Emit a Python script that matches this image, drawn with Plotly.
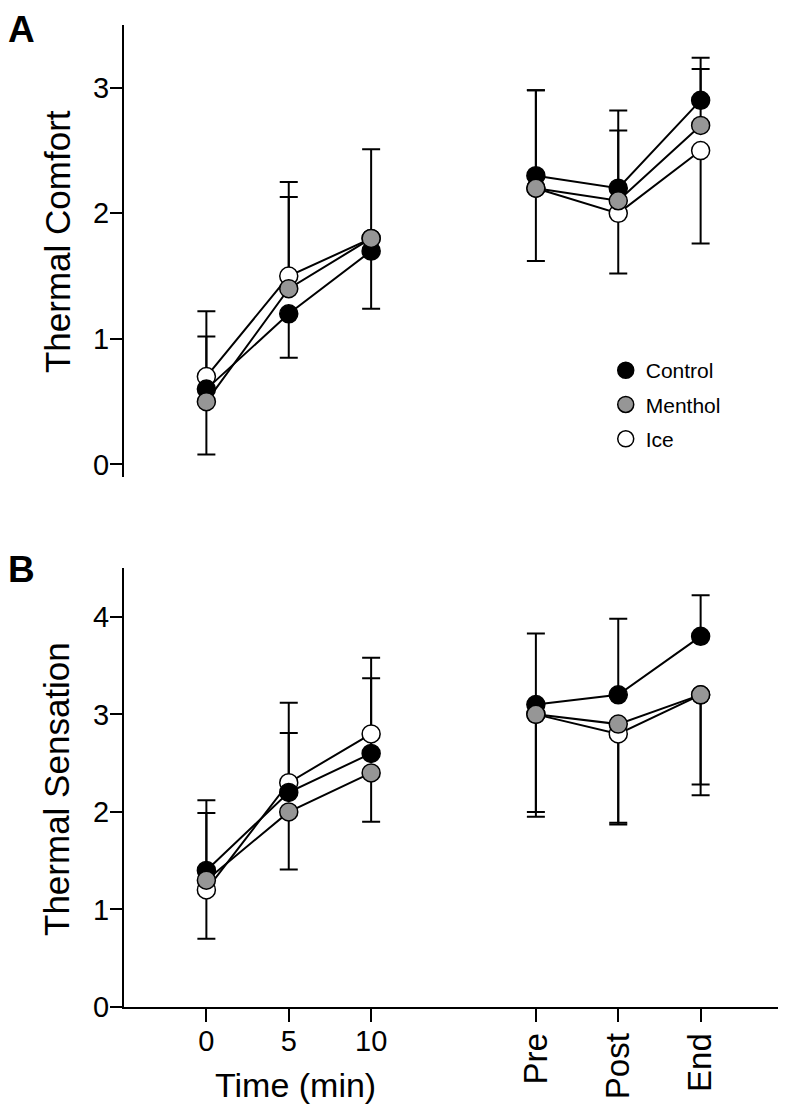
import plotly.graph_objects as go

FONT = "Liberation Sans, Arial, Helvetica, sans-serif"

# time points (first three in minutes, last three are phases)
categories = ["0", "5", "10", "Pre", "Post", "End"]
x_pos = [0, 1, 2, 4, 5, 6]

series = ["Control", "Menthol", "Ice"]
fills = {"Control": "black", "Menthol": "#969696", "Ice": "white"}

# panel A - thermal comfort
comfort_control = [0.6, 1.2, 1.7, 2.3, 2.2, 2.9]
comfort_menthol = [0.5, 1.4, 1.8, 2.2, 2.1, 2.7]
comfort_ice = [0.7, 1.5, 1.8, 2.2, 2.0, 2.5]
comfort_control_up = [0.42, 0, 0, 0.68, 0.62, 0.34]
comfort_control_dn = [0, 0.35, 0.46, 0, 0, 0]
comfort_menthol_up = [0, 0.73, 0.71, 0, 0.56, 0.45]
comfort_menthol_dn = [0.42, 0, 0, 0.58, 0, 0]
comfort_ice_up = [0.52, 0.75, 0, 0.78, 0, 0]
comfort_ice_dn = [0, 0, 0, 0, 0.48, 0.74]

# panel B - thermal sensation
sens_control = [1.4, 2.2, 2.6, 3.1, 3.2, 3.8]
sens_menthol = [1.3, 2.0, 2.4, 3.0, 2.9, 3.2]
sens_ice = [1.2, 2.3, 2.8, 3.0, 2.8, 3.2]
sens_control_up = [0.72, 0.61, 0.77, 0.73, 0.78, 0.42]
sens_control_dn = [0, 0, 0, 0, 0, 0]
sens_menthol_up = [0.69, 0, 0, 0, 0, 0]
sens_menthol_dn = [0, 0.59, 0.5, 1.0, 1.01, 0.92]
sens_ice_up = [0, 0.82, 0.78, 0, 0, 0]
sens_ice_dn = [0.5, 0, 0, 1.05, 0.93, 1.03]

panels = {
    "A": {"Control": (comfort_control, comfort_control_up, comfort_control_dn),
          "Menthol": (comfort_menthol, comfort_menthol_up, comfort_menthol_dn),
          "Ice": (comfort_ice, comfort_ice_up, comfort_ice_dn)},
    "B": {"Control": (sens_control, sens_control_up, sens_control_dn),
          "Menthol": (sens_menthol, sens_menthol_up, sens_menthol_dn),
          "Ice": (sens_ice, sens_ice_up, sens_ice_dn)},
}
axes = {"A": ("x", "y"), "B": ("x2", "y2")}


def gap(vals):
    # break the line between the minute block and the phase block
    return list(vals[:3]) + [None] + list(vals[3:])


fig = go.Figure()
for panel, data in panels.items():
    xa, ya = axes[panel]
    # lines + error bars first so every marker sits on top
    for name in series:
        y, up, dn = data[name]
        fig.add_trace(go.Scatter(
            x=gap(x_pos), y=gap(y), xaxis=xa, yaxis=ya, mode="lines",
            line=dict(color="black", width=2), showlegend=False, hoverinfo="skip",
            error_y=dict(type="data", symmetric=False, array=gap(up), arrayminus=gap(dn),
                         color="black", thickness=2, width=9)))
    for rank, name in zip([3, 1, 2], ["Ice", "Control", "Menthol"]):
        y, up, dn = data[name]
        fig.add_trace(go.Scatter(
            x=x_pos, y=y, xaxis=xa, yaxis=ya, mode="markers", name=name,
            marker=dict(size=18, color=fills[name], line=dict(color="black", width=1.5)),
            showlegend=(panel == "A"), legendrank=rank, legendgroup=name))

# empty trace so the overlay axis holding the rotated phase labels gets drawn
fig.add_trace(go.Scatter(x=[], y=[], xaxis="x3", yaxis="y2", showlegend=False, hoverinfo="skip"))

tick_font = dict(family=FONT, size=29, color="black")
yax = dict(showline=True, linecolor="black", linewidth=2, ticks="outside", ticklen=12,
           tickwidth=2, tickcolor="black", showgrid=False, zeroline=False, tickfont=tick_font,
           ticklabelstandoff=-5)

title_font = dict(family=FONT, size=35, color="black")
letter_font = dict(family=FONT, size=37, color="black")

# page body adds an 8px offset, so the margins are shifted to compensate
fig.update_layout(
    width=786, height=1113,
    margin=dict(l=116, r=11, t=17, b=114),
    paper_bgcolor="white", plot_bgcolor="white",
    font=dict(family=FONT, color="black"),
    xaxis=dict(domain=[0, 1], range=[-1, 7], anchor="y", visible=False),
    yaxis=dict(domain=[0.5397, 1], range=[-0.1, 3.5], tickvals=[0, 1, 2, 3], **yax),
    xaxis2=dict(domain=[0, 1], range=[-1, 7], anchor="y2", showline=True, linecolor="black",
                linewidth=2, ticks="outside", ticklen=13, tickwidth=2, tickcolor="black",
                showgrid=False, zeroline=False, tickfont=tick_font, ticklabelstandoff=-6,
                tickvals=x_pos, ticktext=categories[:3] + ["", "", ""]),
    xaxis3=dict(overlaying="x2", anchor="y2", range=[-1, 7], showline=False, showgrid=False,
                zeroline=False, ticks="outside", ticklen=13, tickcolor="rgba(0,0,0,0)",
                tickvals=x_pos[3:], ticktext=categories[3:], tickangle=-90, ticklabelstandoff=-1,
                tickfont=dict(family=FONT, size=33, color="black")),
    yaxis2=dict(domain=[0, 0.447], range=[0, 4.5], tickvals=[0, 1, 2, 3, 4], **yax),
    legend=dict(x=0.731, y=0.669, xanchor="left", yanchor="top", bgcolor="rgba(0,0,0,0)",
                font=dict(family=FONT, size=21, color="black"), tracegroupgap=4),
    annotations=[
        dict(text="<b>A</b>", xref="paper", yref="paper", x=-0.1775, y=1.0173, xanchor="left",
             yanchor="top", borderpad=0, showarrow=False, font=letter_font),
        dict(text="<b>B</b>", xref="paper", yref="paper", x=-0.1775, y=0.4671, xanchor="left",
             yanchor="top", borderpad=0, showarrow=False, font=letter_font),
        dict(text="Thermal Comfort", xref="paper", yref="paper", x=-0.1017, y=0.780,
             xanchor="center", yanchor="middle", textangle=-90, showarrow=False, font=title_font),
        dict(text="Thermal Sensation", xref="paper", yref="paper", x=-0.1017, y=0.222,
             xanchor="center", yanchor="middle", textangle=-90, showarrow=False, font=title_font),
        dict(text="Time (min)", xref="x2", yref="paper", x=sum(x_pos[:3]) / 3, xshift=7,
             y=-0.0795, yanchor="middle", showarrow=False, font=dict(family=FONT, size=34)),
    ],
)

fig.write_html("out.html")
